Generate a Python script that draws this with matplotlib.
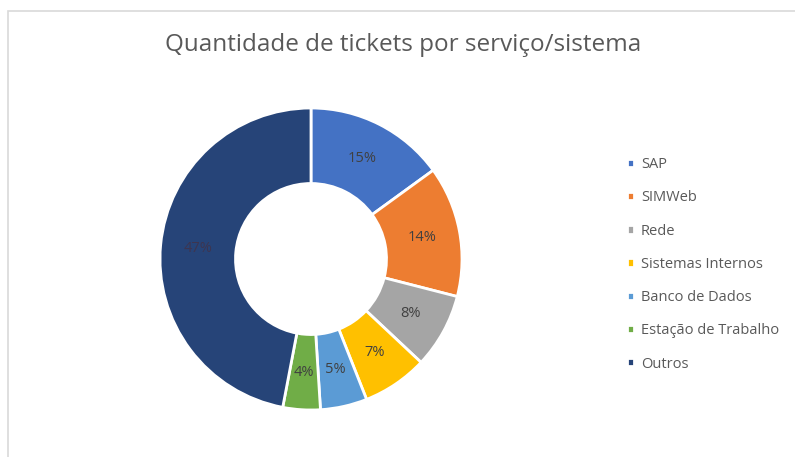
import matplotlib.pyplot as plt
from matplotlib.patches import Rectangle

plt.rcParams['font.family'] = ['Open Sans', 'DejaVu Sans']

# dados do grafico
categorias = ['SAP', 'SIMWeb', 'Rede', 'Sistemas Internos', 'Banco de Dados',
              'Estação de Trabalho', 'Outros']
percentuais = [15, 14, 8, 7, 5, 4, 47]
cores = ['#4472C4', '#ED7D31', '#A5A5A5', '#FFC000', '#5B9BD5', '#70AD47', '#264478']
cor_rotulos = ['#404040'] * 6 + ['#3d3550']

fig = plt.figure(figsize=(7.95, 4.57), dpi=100)

# borda leve da area do grafico
fig.patches.append(Rectangle((8 / 795, -0.01), 1.0, 1 - 11 / 457 + 0.01,
                             transform=fig.transFigure, fill=False,
                             edgecolor='#d9d9d9', linewidth=1.2))

ax = fig.add_axes([160 / 795, 47 / 457, 302 / 795, 302 / 457])
wedges, texts, autotexts = ax.pie(
    percentuais, colors=cores, startangle=90, counterclock=False,
    autopct='%1.0f%%', pctdistance=0.75, radius=1,
    wedgeprops=dict(width=0.5, edgecolor='white', linewidth=2),
    textprops=dict(fontsize=10.5))
for t, c in zip(autotexts, cor_rotulos):
    t.set_color(c)
ax.set_xlim(-1, 1)
ax.set_ylim(-1, 1)
ax.set_aspect('equal')

fig.text(0.507, 1 - 45 / 457, 'Quantidade de tickets por serviço/sistema',
         ha='center', va='center', fontsize=17.5, color='#595959')

leg = fig.legend(wedges, categorias, loc='upper left',
                 bbox_to_anchor=(614 / 795, 1 - 144 / 457), frameon=False,
                 fontsize=10.5, labelcolor='#595959', handlelength=0.5,
                 handleheight=0.5, handletextpad=0.45, labelspacing=1.25)

fig.savefig('out.png', dpi=100, facecolor='white')
